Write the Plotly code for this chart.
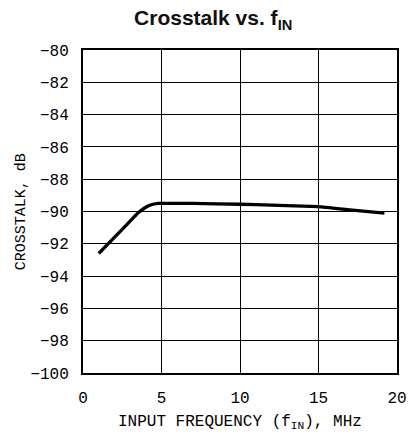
import plotly.graph_objects as go

# Crosstalk measured across input frequency
freq_mhz = [1.0, 2.0, 3.0, 3.5, 3.9, 4.3, 4.8, 7.0, 10.0, 12.0, 15.0, 17.0, 19.2]
crosstalk_db = [-92.6, -91.6, -90.6, -90.1, -89.8, -89.6, -89.5, -89.5, -89.55, -89.6, -89.7, -89.9, -90.1]

x_ticks = [0, 5, 10, 15, 20]
y_ticks = [-80, -82, -84, -86, -88, -90, -92, -94, -96, -98, -100]
y_tick_text = ["\u2212" + str(abs(v)) if v < 0 else str(v) for v in y_ticks]

mono = "Liberation Mono"
tick_font = dict(family=mono, size=16, color="black")

fig = go.Figure()
fig.add_trace(go.Scatter(
    x=freq_mhz, y=crosstalk_db, mode="lines",
    line=dict(color="black", width=3.3, shape="spline", smoothing=0.3),
    showlegend=False, hoverinfo="skip",
))

fig.update_layout(
    width=418, height=447,
    margin=dict(l=83, r=11, t=50, b=74),
    paper_bgcolor="white", plot_bgcolor="white",
    title=dict(text="<b>Crosstalk vs. f<sub>IN</sub></b>", x=0.51, xanchor="center",
               y=0.96, yanchor="middle",
               font=dict(family="Liberation Sans", size=21, color="#111")),
    xaxis=dict(range=[0, 20], tickvals=x_ticks, ticktext=[str(v) for v in x_ticks],
               showgrid=True, gridcolor="black", gridwidth=1,
               showline=True, linecolor="black", linewidth=2, mirror=True,
               zeroline=False, ticks="", tickfont=tick_font, ticklabelstandoff=9),
    yaxis=dict(range=[-100, -80], tickvals=y_ticks, ticktext=y_tick_text,
               showgrid=True, gridcolor="black", gridwidth=1,
               showline=True, linecolor="black", linewidth=2, mirror=True,
               zeroline=False, ticks="", tickfont=tick_font, ticklabelstandoff=9),
    annotations=[
        dict(text="INPUT FREQUENCY (f<sub>IN</sub>), MHz", xref="paper", yref="paper",
             x=0.5, y=-0.153, xanchor="center", yanchor="middle", showarrow=False,
             font=dict(family=mono, size=16, color="black")),
        dict(text="CROSSTALK, dB", xref="paper", yref="paper",
             x=-0.195, y=0.5, xanchor="center", yanchor="middle", textangle=-90,
             showarrow=False,
             font=dict(family=mono, size=15, color="black")),
    ],
)

fig.write_html("out.html")
